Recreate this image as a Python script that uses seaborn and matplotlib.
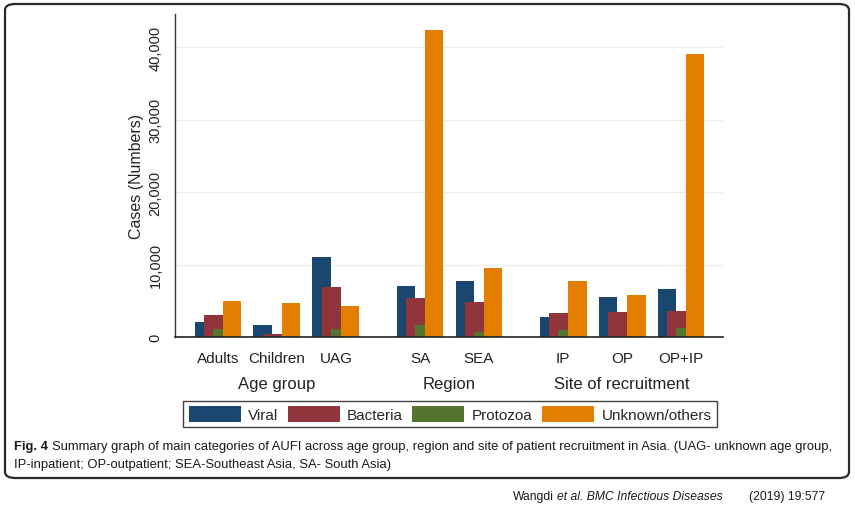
import pandas as pd
import seaborn as sns
import matplotlib.pyplot as plt
import numpy as np
from matplotlib.patches import Patch, FancyBboxPatch
from matplotlib.transforms import blended_transform_factory

# AUFI cases by category
categories = ['Adults', 'Children', 'UAG', 'SA', 'SEA', 'IP', 'OP', 'OP+IP']
cat_group = [0, 0, 0, 1, 1, 2, 2, 2]
group_names = ['Age group', 'Region', 'Site of recruitment']
series = ['Viral', 'Bacteria', 'Protozoa', 'Unknown/others']
viral = [2100, 1600, 11100, 7000, 7800, 2750, 5500, 6600]
bacteria = [3100, 400, 6950, 5450, 4850, 3350, 3400, 3650]
protozoa = [1100, 0, 1050, 1650, 700, 950, 0, 1250]
unknown = [5000, 4750, 4300, 42400, 9550, 7700, 5850, 39100]
colors = ['#1a476f', '#90353b', '#55752f', '#e37e00']

sns.set_style('white')
plt.rcParams['font.family'] = ['Liberation Sans', 'DejaVu Sans']

# positions: one unit per bar group, extra gap between the over() groups
gap = 0.425
pos = [i + g * gap for i, g in enumerate(cat_group)]

rows = []
for name, vals in zip(series, [viral, bacteria, protozoa, unknown]):
    for p, v in zip(pos, vals):
        rows.append({'pos': p, 'type': name, 'cases': v})
df = pd.DataFrame(rows)

fig = plt.figure(figsize=(8.55, 5.1), dpi=100)
ax = fig.add_axes([175/855, 1 - 338/510, (723 - 175)/855, (338 - 15)/510])

sns.barplot(data=df, x='pos', y='cases', hue='type', hue_order=series,
            palette=colors, native_scale=True, width=0.637, dodge=True,
            saturation=1, linewidth=0, legend=False, ax=ax, errorbar=None)

# stata style: bars overlap by half their width
for patch in ax.patches:
    w = patch.get_width()
    patch.set_x(patch.get_x() - w / 2)
    patch.set_width(2 * w)

ax.set_xlim(-0.729, pos[-1] + 0.712)
ax.set_ylim(0, 44600)
ax.set_xticks(pos)
ax.set_xticklabels(categories, fontsize=11, color='#222222')
yt = [0, 10000, 20000, 30000, 40000]
ax.set_yticks(yt)
ax.set_yticklabels([f'{v:,}' for v in yt], rotation=90, va='center',
                   fontsize=10.5, color='#222222')
ax.tick_params(axis='both', length=5, width=1, color='#333333', direction='out')
ax.tick_params(axis='x', pad=5)
ax.tick_params(axis='y', pad=4)
ax.set_xlabel('')
ax.set_ylabel('Cases (Numbers)', fontsize=11.5, color='#222222', labelpad=3)

for v in yt[1:]:
    ax.axhline(v, color='#ececec', lw=0.9, zorder=0)

for s in ['top', 'right']:
    ax.spines[s].set_visible(False)
ax.spines['left'].set_color('#333333')
ax.spines['bottom'].set_color('#222222')
ax.spines['left'].set_linewidth(1)
ax.spines['bottom'].set_linewidth(1.2)

# group labels under the ticks
tr = blended_transform_factory(ax.transData, fig.transFigure)
for g, gname in enumerate(group_names):
    gp = [p for p, c in zip(pos, cat_group) if c == g]
    ax.text(np.mean(gp), 1 - 385/510, gname, transform=tr, ha='center',
            va='center', fontsize=12, color='#222222')

handles = [Patch(facecolor=c, edgecolor='none') for c in colors]
leg = fig.legend(handles, series, loc='center', bbox_to_anchor=(450/855, 1 - 415/510),
                 ncol=4, fontsize=11, handlelength=3.4, handleheight=1.2,
                 columnspacing=0.6, handletextpad=0.5, borderpad=0.35,
                 frameon=True, fancybox=False, edgecolor='#111111')
leg.get_frame().set_linewidth(1.0)

# outer rounded frame
frame = FancyBboxPatch((5/855, 1 - 479/510), 844/855, 474/510,
                       boxstyle='round,pad=0,rounding_size=0.012',
                       transform=fig.transFigure, facecolor='none',
                       edgecolor='#2a2a2a', lw=1.6, zorder=0)
fig.patches.append(frame)

cap_font = ['Liberation Sans Narrow', 'Liberation Sans', 'DejaVu Sans']
fig.canvas.draw()
r = fig.canvas.get_renderer()
t1 = fig.text(14/855, 1 - 447/510, 'Fig. 4', fontsize=9.4, fontweight='bold',
              family=cap_font, va='center', color='#1a1a1a')
bb = t1.get_window_extent(renderer=r)
fig.text(bb.x1 / 855 + 4/855, 1 - 447/510,
         'Summary graph of main categories of AUFI across age group, region and site of patient '
         'recruitment in Asia. (UAG- unknown age group,',
         fontsize=9.4, family=cap_font, va='center', color='#1a1a1a')
fig.text(14/855, 1 - 465/510,
         'IP-inpatient; OP-outpatient; SEA-Southeast Asia, SA- South Asia)',
         fontsize=9.4, family=cap_font, va='center', color='#1a1a1a')

# citation line, right aligned
c3 = fig.text(825/855, 1 - 497/510, '(2019) 19:577', fontsize=8.7, family=cap_font,
              ha='right', va='center', color='#1a1a1a')
b3 = c3.get_window_extent(renderer=r)
c2 = fig.text((b3.x0 - 26) / 855, 1 - 497/510, 'et al. BMC Infectious Diseases',
              fontsize=8.7, family=cap_font, style='italic', ha='right', va='center',
              color='#1a1a1a')
b2 = c2.get_window_extent(renderer=r)
fig.text((b2.x0 - 3) / 855, 1 - 497/510, 'Wangdi', fontsize=8.7, family=cap_font,
         ha='right', va='center', color='#1a1a1a')

fig.savefig('out.png', dpi=100)
